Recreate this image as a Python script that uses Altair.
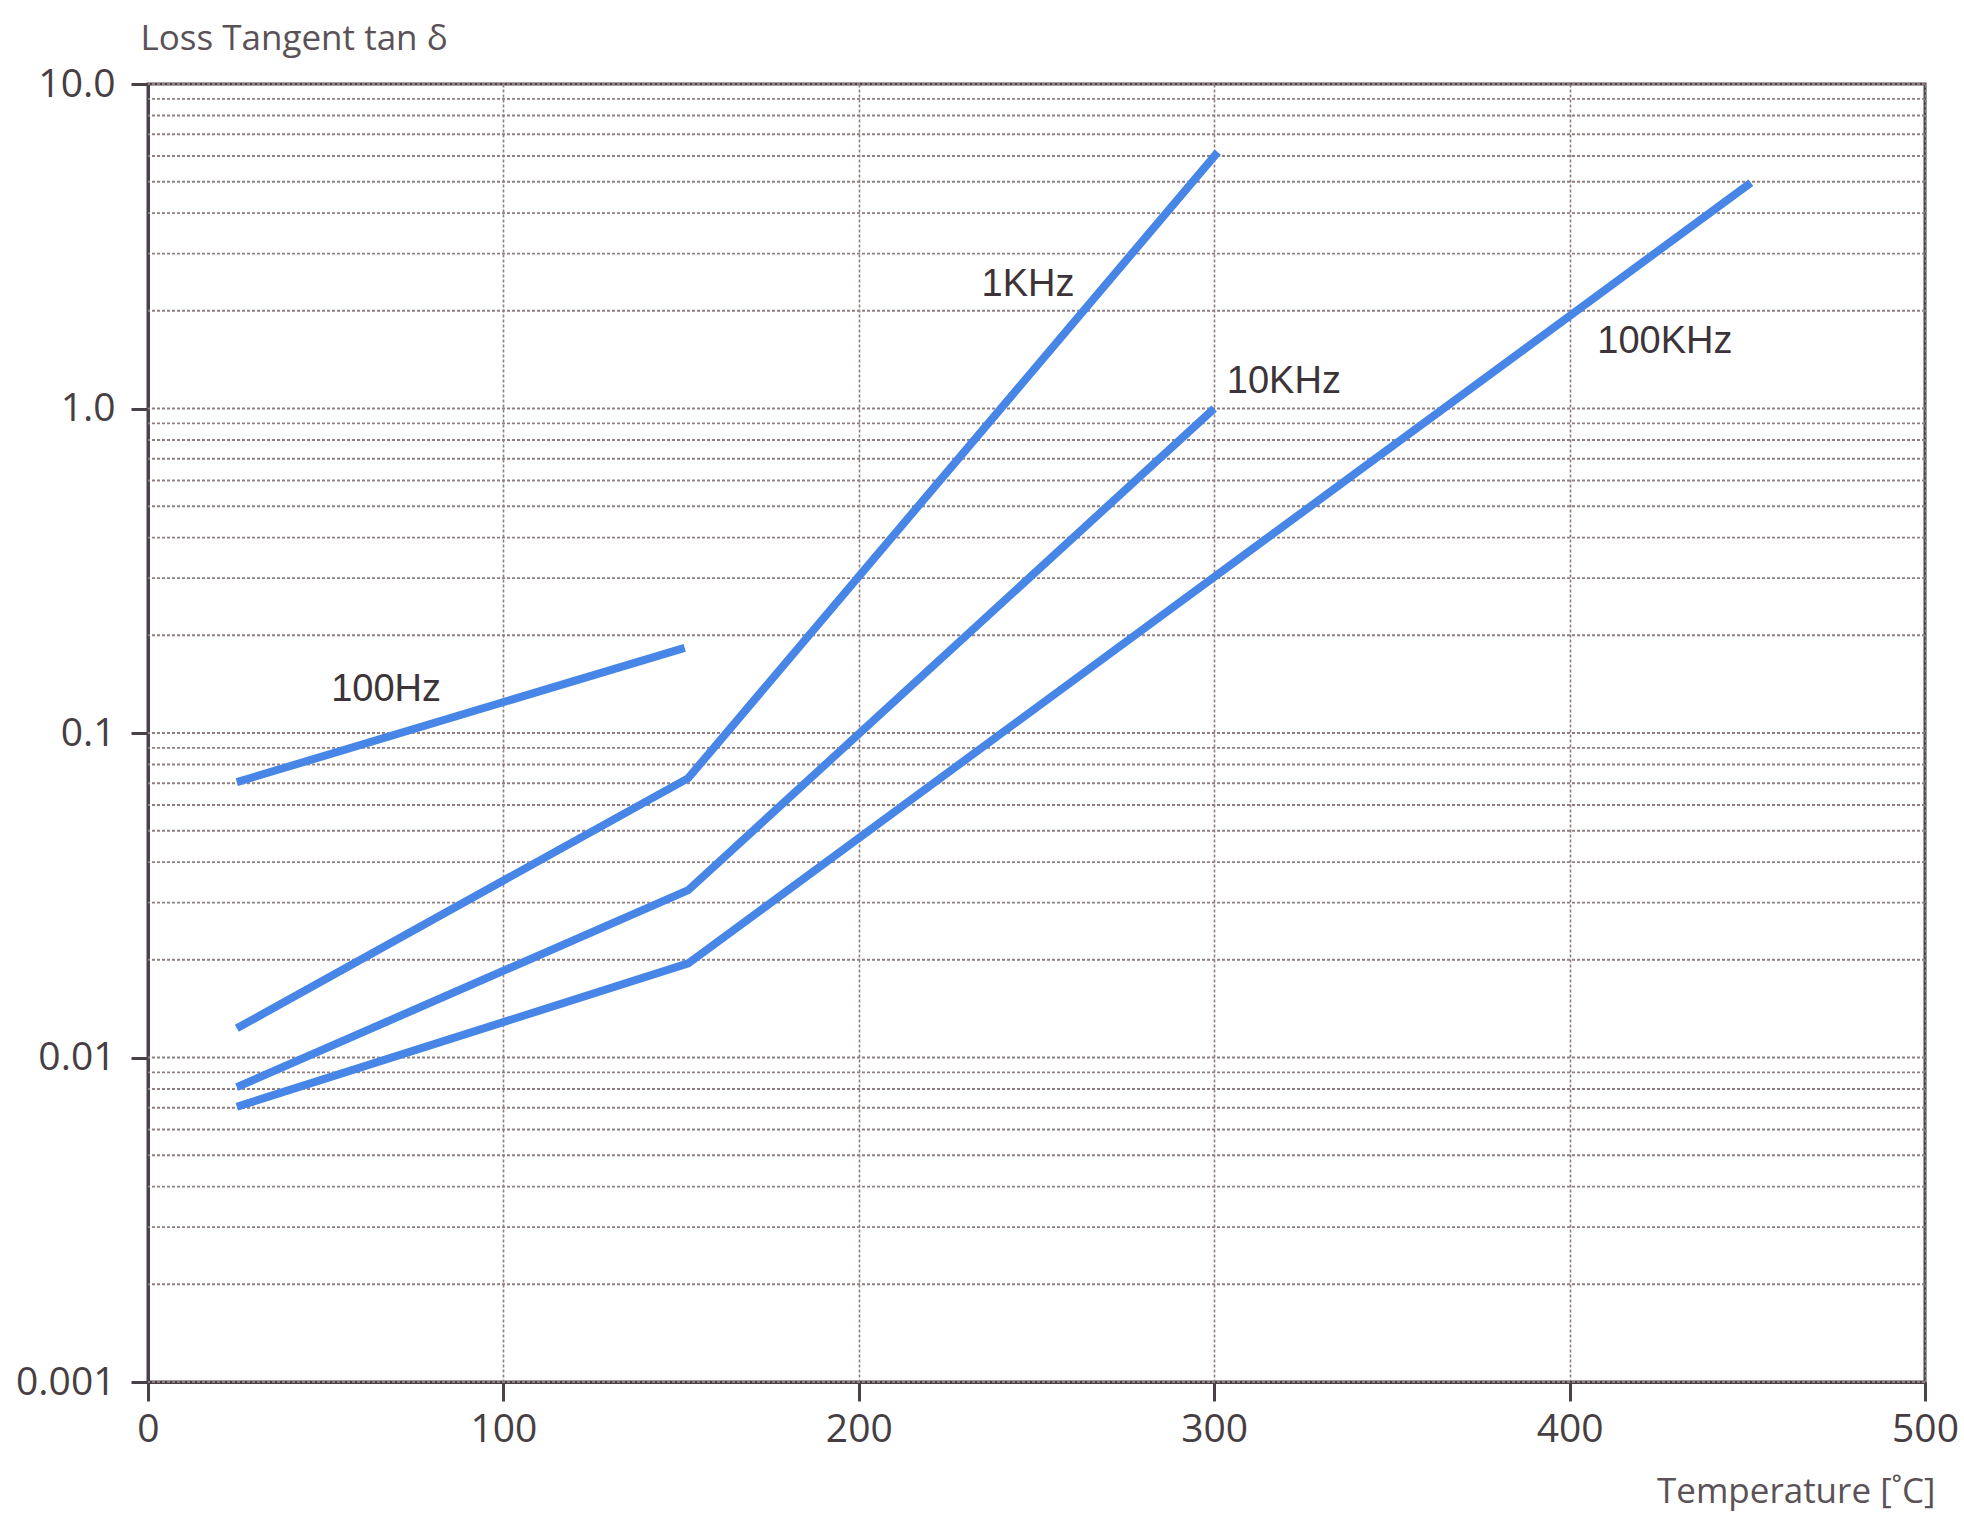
import altair as alt
import pandas as pd

# Loss tangent curves, one entry per measuring frequency
series_names = ["100Hz", "1KHz", "10KHz", "100KHz"]
temps_100hz = [25, 151]
tan_100hz = [0.0706, 0.183]
temps_1khz = [25, 152, 301]
tan_1khz = [0.0123, 0.0726, 6.17]
temps_10khz = [25, 152, 300]
tan_10khz = [0.0081, 0.0328, 1.0]
temps_100khz = [25, 152, 451]
tan_100khz = [0.00705, 0.0195, 4.96]

# Curve label anchors (temperature, tan delta)
label_temps = [67, 247.6, 319.6, 426.8]
label_tans = [0.1357, 2.40, 1.21, 1.60]

# Axis ticks
x_ticks = [0, 100, 200, 300, 400, 500]
y_tick_values = [0.001, 0.01, 0.1, 1.0, 10.0]
y_tick_labels = ["0.001", "0.01", "0.1", "1.0", "10.0"]
# Log-paper grid: 1..9 times every decade
grid_mantissas = [1, 2, 3, 4, 5, 6, 7, 8, 9]
grid_decades = [0.001, 0.01, 0.1, 1.0]

rows = []
for name, ts, vs in zip(
    series_names,
    [temps_100hz, temps_1khz, temps_10khz, temps_100khz],
    [tan_100hz, tan_1khz, tan_10khz, tan_100khz],
):
    for t, v in zip(ts, vs):
        rows.append({"series": name, "temp": t, "tan": v})
lines_df = pd.DataFrame(rows)

labels_df = pd.DataFrame(
    {"series": series_names, "temp": label_temps, "tan": label_tans}
)

grid_vals = [m * d for d in grid_decades for m in grid_mantissas] + [10.0]
grid_df = pd.DataFrame({"tan": grid_vals})

label_expr = " : ".join(
    f"abs(datum.value - {v}) < {v / 10} ? '{lab}'"
    for v, lab in zip(y_tick_values, y_tick_labels)
) + " : ''"

W, H = 1777, 1298
AXIS_FONT = "Open Sans"
TEXT_COLOR = "#463e42"
TITLE_COLOR = "#5a5256"
FRAME_COLOR = "#4b4249"
GRID_COLOR = "#8f7f80"

x_scale = alt.Scale(domain=[0, 500], nice=False, zero=False)
y_scale = alt.Scale(type="log", domain=[0.001, 10], nice=False)

x_axis = alt.Axis(
    values=x_ticks,
    title="Temperature [˚C]",
    titleFont=AXIS_FONT,
    titleFontSize=35,
    titleFontWeight="normal",
    titleColor=TITLE_COLOR,
    titleAlign="right",
    titleBaseline="middle",
    titleAnchor="end",
    titleX=W + 10,
    titleY=109,
    labelFont=AXIS_FONT,
    labelFontSize=39,
    labelColor=TEXT_COLOR,
    labelPadding=9,
    labelFlush=False,
    tickSize=19,
    tickWidth=3,
    tickColor=FRAME_COLOR,
    domainColor=FRAME_COLOR,
    domainWidth=3,
    grid=True,
    gridColor=GRID_COLOR,
    gridDash=[3, 2],
    gridWidth=1.6,
)

y_axis = alt.Axis(
    values=y_tick_values,
    labelExpr=label_expr,
    title="Loss Tangent tan δ",
    titleFont=AXIS_FONT,
    titleFontSize=35,
    titleFontWeight="normal",
    titleColor=TITLE_COLOR,
    titleAngle=0,
    titleAlign="left",
    titleBaseline="middle",
    titleX=-8,
    titleY=-46,
    labelFont=AXIS_FONT,
    labelFontSize=39,
    labelColor=TEXT_COLOR,
    labelPadding=16,
    labelFlush=False,
    tickSize=17,
    tickWidth=3,
    tickColor=FRAME_COLOR,
    domainColor=FRAME_COLOR,
    domainWidth=3,
    grid=False,
)

grid = alt.Chart(grid_df).mark_rule(
    color=GRID_COLOR, strokeWidth=1.9, strokeDash=[3, 2]
).encode(y=alt.Y("tan:Q", scale=y_scale, axis=y_axis))

lines = alt.Chart(lines_df).mark_line(
    color="#4786e6", strokeWidth=8, strokeCap="butt", strokeJoin="miter"
).encode(
    x=alt.X("temp:Q", scale=x_scale, axis=x_axis),
    y=alt.Y("tan:Q", scale=y_scale, axis=y_axis),
    detail="series:N",
)

texts = alt.Chart(labels_df).mark_text(
    font="Liberation Sans",
    fontSize=38,
    color="#3c3438",
    align="center",
    baseline="middle",
).encode(
    x=alt.X("temp:Q", scale=x_scale, axis=x_axis),
    y=alt.Y("tan:Q", scale=y_scale, axis=y_axis),
    text="series:N",
)

chart = (
    alt.layer(grid, lines, texts)
    .properties(
        width=W,
        height=H,
        autosize=alt.AutoSizeParams(type="none"),
        padding={"left": 148, "top": 84, "right": 39, "bottom": 136},
        background="white",
    )
    .configure_view(stroke=FRAME_COLOR, strokeWidth=3)
)

chart.save("out.html", embed_options={"renderer": "svg", "actions": False})
